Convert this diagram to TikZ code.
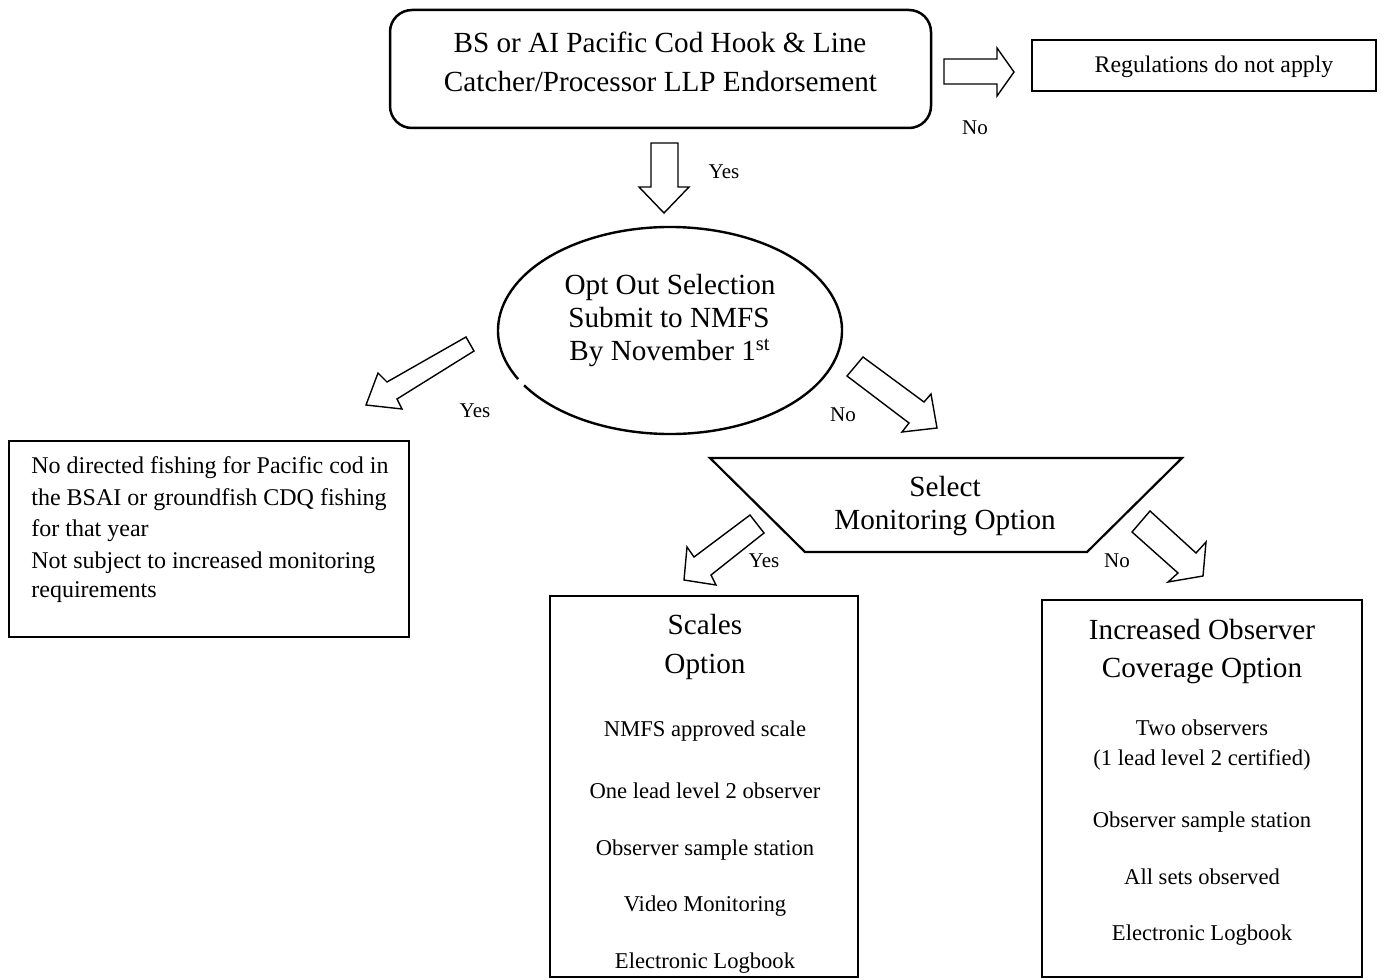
\documentclass[tikz,border=0pt]{standalone}
\usepackage{fontspec}
\setmainfont{Liberation Serif}
\begin{document}
\begin{tikzpicture}[x=0.5pt,y=-0.5pt,
  box/.style={draw, line width=1.1pt, inner sep=0pt},
  thickbox/.style={draw, line width=1.25pt, inner sep=0pt},
  blk/.style={draw, line width=0.7pt, line join=miter},
  lbl/.style={font=\fontsize{10.5}{12}\selectfont, anchor=base, inner sep=0pt},
  big/.style={font=\fontsize{14.6}{17}\selectfont, anchor=base, inner sep=0pt},
  item/.style={font=\fontsize{11.3}{13}\selectfont, anchor=base, inner sep=0pt},
  midt/.style={font=\fontsize{12}{14}\selectfont, anchor=base west, inner sep=0pt},
  regt/.style={font=\fontsize{11.9}{14}\selectfont, anchor=base, inner sep=0pt}]
\useasboundingbox (0,0) rectangle (1386,979);

% top rounded box
\node[thickbox, rounded corners=11pt, minimum width=270.5pt, minimum height=59pt] (top) at (660.5,69) {};
\node[big] (t1) at (660,52.5) {BS or AI Pacific Cod Hook \& Line};
\node[big] (t2) at (660.5,91.5) {Catcher/Processor LLP Endorsement};

% right arrow and regulations box
\draw[blk] (944,59) -- (997,59) -- (997,48) -- (1014,72) -- (997,96) -- (997,84) -- (944,84) -- cycle;
\node[thickbox, minimum width=172pt, minimum height=25.5pt] (reg) at (1204,65.5) {};
\node[regt] (regtxt) at (1214,72.5) {Regulations do not apply};
\node[lbl] (no1) at (975,134.5) {No};

% down arrow
\draw[blk] (651,143) -- (678,143) -- (678,187) -- (689,187) -- (664,213) -- (639,187) -- (651,187) -- cycle;
\node[lbl] (yes1) at (724,178.5) {Yes};

% ellipse
\coordinate (optc) at (670,330.5);
\draw[line width=1.2pt] ([shift={(212:86pt and 51.75pt)}]optc) arc[start angle=212, end angle=568, x radius=86pt, y radius=51.75pt];
\node[big] (o1) at (670,294.5) {Opt Out Selection};
\node[big] (o2) at (669,327.5) {Submit to NMFS};
\node[big] (o3) at (670,360.5) {By November 1\textsuperscript{st}};

% arrows from ellipse
\draw[blk] (466,337) -- (387,382) -- (378,373) -- (366,405) -- (402,409) -- (397,399) -- (474,351) -- cycle;
\node[lbl] (yes2) at (475,417.5) {Yes};
\draw[blk] (863,357) -- (924,402) -- (931,394) -- (937,428) -- (902,432) -- (909,423) -- (847,376) -- cycle;
\node[lbl] (no2) at (843,421.5) {No};

% left box
\node[box, minimum width=200pt, minimum height=98pt] (left) at (209,539) {};
\node[midt] (l1) at (31,473.5) {No directed fishing for Pacific cod in};
\node[midt] (l2) at (31,505) {the BSAI or groundfish CDQ fishing};
\node[midt] (l3) at (31,536.5) {for that year};
\node[midt] (l4) at (31,568) {Not subject to increased monitoring};
\node[midt] (l5) at (31,597.5) {requirements};

% trapezoid
\draw[box] (710,458) -- (1182,458) -- (1087,552) -- (805,552) -- cycle;
\node[big] (s1) at (945,496.5) {Select};
\node[big] (s2) at (945,529.5) {Monitoring Option};

% arrows from trapezoid
\draw[blk] (750,515) -- (694,557) -- (687,547) -- (684,580) -- (716,585) -- (711,575) -- (764,533) -- cycle;
\node[lbl] (yes3) at (764,567.5) {Yes};
\draw[blk] (1150,511) -- (1196,553) -- (1206,542) -- (1203,576) -- (1168,582) -- (1178,573) -- (1132,532) -- cycle;
\node[lbl] (no3) at (1117,567.5) {No};

% scales box
\draw[box] (550,596) rectangle (858,977);
\node[big] (a1) at (705,634.5) {Scales};
\node[big] (a2) at (705,673.5) {Option};
\node[item] (a3) at (705,736.5) {NMFS approved scale};
\node[item] (a4) at (705,798.5) {One lead level 2 observer};
\node[item] (a5) at (705,855.5) {Observer sample station};
\node[item] (a6) at (705,911.5) {Video Monitoring};
\node[item] (a7) at (705,968.5) {Electronic Logbook};

% observer box
\draw[box] (1042,600) rectangle (1362,977);
\node[big] (b1) at (1202,639.5) {Increased Observer};
\node[big] (b2) at (1202,677.5) {Coverage Option};
\node[item] (b3) at (1202,735.5) {Two observers};
\node[item] (b4) at (1202,765.5) {(1 lead level 2 certified)};
\node[item] (b5) at (1202,827.5) {Observer sample station};
\node[item] (b6) at (1202,884.5) {All sets observed};
\node[item] (b7) at (1202,940.5) {Electronic Logbook};
\end{tikzpicture}
\end{document}
